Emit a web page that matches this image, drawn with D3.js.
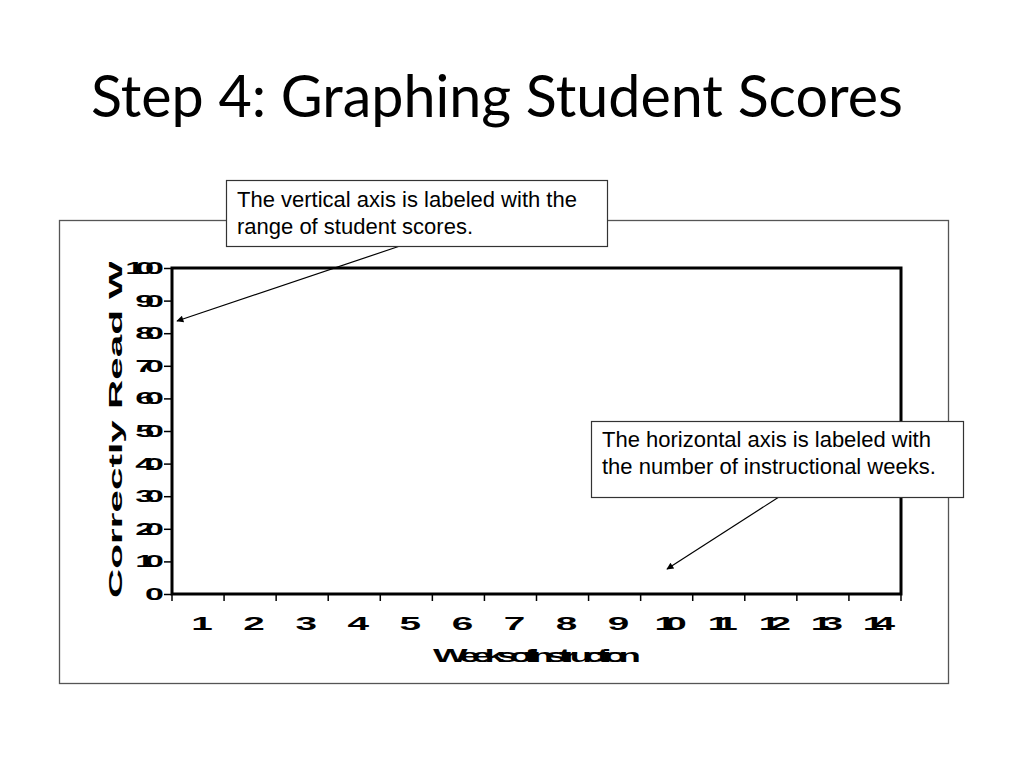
<!DOCTYPE html>
<html><head><meta charset="utf-8">
<script src="https://cdn.jsdelivr.net/npm/d3@7"></script>
<style>html,body{margin:0;padding:0;background:#fff;}</style>
</head><body>
<script>
const titleText = "Step 4: Graphing Student Scores";
const weeks = [1,2,3,4,5,6,7,8,9,10,11,12,13,14];
const yTicks = [0,10,20,30,40,50,60,70,80,90,100];
const yDomain = [0,100];
const xTitle = "WeeksofInstruction";
const yTitle = "Correctly Read Words Per Minute";
const note1 = ["The vertical axis is labeled with the", "range of student scores."];
const note2 = ["The horizontal axis is labeled with", "the number of instructional weeks."];
const scores = []; // no student scores plotted yet

const W = 1024, H = 768;
const svg = d3.select("body").append("svg").attr("width", W).attr("height", H);
svg.append("defs").append("marker").attr("id","ah").attr("viewBox","0 0 10 10")
  .attr("refX",9).attr("refY",5).attr("markerWidth",10).attr("markerHeight",7)
  .attr("markerUnits","userSpaceOnUse").attr("orient","auto")
  .append("path").attr("d","M0,0L10,5L0,10z").attr("fill","#000");
svg.select("defs").append("clipPath").attr("id","yclip")
  .append("rect").attr("x",60).attr("y",262).attr("width",110).attr("height",337);

// Title
const t = svg.append("text").attr("x",91).attr("y",117)
  .attr("font-family","Lato, 'Open Sans', sans-serif").attr("font-size",52)
  .attr("fill","#000").text(titleText);
const tw = t.node().getComputedTextLength();
t.attr("font-size", 52*812/tw);

// Outer chart frame
svg.append("rect").attr("x",59.5).attr("y",220.5).attr("width",889).attr("height",463)
  .attr("fill","none").attr("stroke","#555").attr("stroke-width",1.3);

const plot = {l:172, r:901, t:268, b:594};
const x = d3.scaleBand().domain(weeks).range([plot.l, plot.r]);
const y = d3.scaleLinear().domain(yDomain).range([plot.b, plot.t]);

function stretched(g, txt, px, py, sx, ls, fs, anchor, targetW){
  const el = g.append("text").attr("font-family","'Liberation Sans', Arial, sans-serif")
    .attr("font-weight","bold").attr("font-size",fs).attr("letter-spacing",ls+"px")
    .attr("fill","#000").text(txt);
  const w = el.node().getComputedTextLength() - ls; // visual width without trailing spacing
  if (targetW) sx = targetW / w;
  let off = 0;
  if (anchor === "end") off = -w; else if (anchor === "middle") off = -w/2;
  el.attr("transform", `translate(${px},${py}) scale(${sx},1) translate(${off},0)`);
  return el;
}

// Y axis
const yAxis = d3.axisLeft(y).tickValues(yTicks).tickSize(8).tickFormat("");
const gy = svg.append("g").attr("transform",`translate(${plot.l},0)`).call(yAxis);
gy.select(".domain").remove();
gy.selectAll(".tick line").attr("stroke","#000").attr("stroke-width",1.5);
yTicks.forEach(v => stretched(svg, String(v), 164, y(v)+6, 2.0, -4.5, 17, "end"));

// X axis
const xAxis = d3.axisBottom(x).tickSize(0).tickFormat("");
const gx = svg.append("g").attr("transform",`translate(0,${plot.b})`).call(xAxis);
gx.select(".domain").remove();
const bounds = weeks.map(w => x(w)).concat([x(weeks[weeks.length-1]) + x.bandwidth()]);
svg.selectAll(".xtick").data(bounds).join("line").attr("class","xtick")
  .attr("x1",d=>d).attr("x2",d=>d).attr("y1",plot.b).attr("y2",plot.b+7)
  .attr("stroke","#000").attr("stroke-width",1.5);
weeks.forEach(w => stretched(svg, String(w), x(w)+x.bandwidth()/2+4, 630, 2.15, -5, 18, "middle"));

// Axis titles
stretched(svg, xTitle, 537, 662, 2.0, -4, 19, "middle", 208);
const yt = svg.append("g").attr("clip-path","url(#yclip)");
yt.append("text").attr("font-family","'Liberation Sans', Arial, sans-serif")
  .attr("font-weight","bold").attr("font-size",19).attr("fill","#000")
  .attr("transform","translate(122,598) rotate(-90) scale(2.13,1)")
  .text(yTitle);

// Plot area border
svg.append("rect").attr("x",plot.l).attr("y",plot.t).attr("width",plot.r-plot.l)
  .attr("height",plot.b-plot.t).attr("fill","none").attr("stroke","#000").attr("stroke-width",3);

// Callouts
function callout(rx, ry, rw, rh, lines, tx, ty, lh, arrow){
  svg.append("line").attr("x1",arrow[0]).attr("y1",arrow[1]).attr("x2",arrow[2]).attr("y2",arrow[3])
    .attr("stroke","#000").attr("stroke-width",1.2).attr("marker-end","url(#ah)");
  svg.append("rect").attr("x",rx+0.5).attr("y",ry+0.5).attr("width",rw).attr("height",rh)
    .attr("fill","#fff").attr("stroke","#333").attr("stroke-width",1.2);
  lines.forEach((s,i)=> svg.append("text").attr("x",tx).attr("y",ty+i*lh)
    .attr("font-family","'Liberation Sans', Arial, sans-serif").attr("font-size",22)
    .attr("fill","#000").text(s));
}
callout(226, 180, 381, 66, note1, 237, 207, 26.5, [400,246,177,321]);
callout(591, 421, 372, 76, note2, 602, 447, 27, [782,495,667,569]);
</script>
</body></html>
